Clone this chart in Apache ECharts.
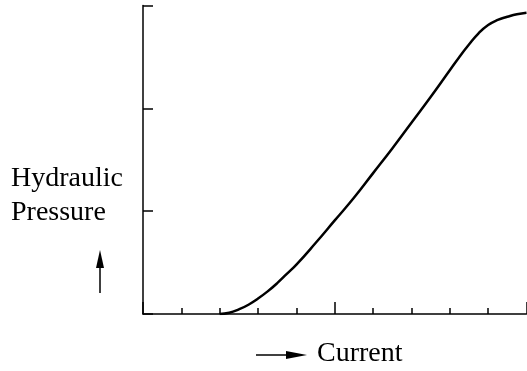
<!DOCTYPE html>
<html>
<head>
<meta charset="utf-8">
<script src="https://cdn.jsdelivr.net/npm/echarts@6/dist/echarts.min.js"></script>
<style>
  html, body { margin: 0; padding: 0; background: #fff; }
  #chart { width: 527px; height: 371px; }
</style>
</head>
<body>
<div id="chart"></div>
<script>
// current (x) vs hydraulic pressure (y)
var current = [2.0, 2.25, 2.5, 2.75, 3.0, 3.25, 3.5, 3.75, 4.0, 4.5, 5.0, 5.5, 6.0, 6.5, 7.0, 7.5, 8.0, 8.25, 8.5, 8.75, 9.0, 9.25, 9.5, 9.75, 10.0];
var pressure = [0, 0.012, 0.045, 0.09, 0.15, 0.22, 0.30, 0.39, 0.48, 0.69, 0.91, 1.13, 1.37, 1.61, 1.86, 2.11, 2.37, 2.5, 2.62, 2.73, 2.81, 2.86, 2.89, 2.915, 2.93];
var yLabel = ['Hydraulic', 'Pressure'];
var xLabel = 'Current';

var serif = '"Liberation Serif", "DejaVu Serif", serif';

var points = current.map(function (x, i) { return [x, pressure[i]]; });

var chart = echarts.init(document.getElementById('chart'));
chart.setOption({
  animation: false,
  grid: { left: 143, right: 0.5, top: 5.5, bottom: 57 },
  xAxis: [
    {
      type: 'value', min: 0, max: 10, interval: 1,
      axisLine: { lineStyle: { color: '#000', width: 1.5 } },
      axisTick: { inside: true, length: 6, lineStyle: { color: '#000', width: 1.5 } },
      axisLabel: { show: false },
      splitLine: { show: false }
    },
    {
      // taller ticks every 5
      type: 'value', min: 0, max: 10, interval: 5, position: 'bottom',
      axisLine: { show: false },
      axisTick: { inside: true, length: 12, lineStyle: { color: '#000', width: 1.5 } },
      axisLabel: { show: false },
      splitLine: { show: false }
    }
  ],
  yAxis: {
    type: 'value', min: 0, max: 3, interval: 1,
    axisLine: { show: true, lineStyle: { color: '#000', width: 1.5 } },
    axisTick: { show: true, inside: true, length: 10, lineStyle: { color: '#000', width: 1.5 } },
    axisLabel: { show: false },
    splitLine: { show: false }
  },
  series: [{
    type: 'line',
    data: points,
    smooth: 0.5,
    showSymbol: false,
    lineStyle: { color: '#000', width: 2.5 }
  }],
  graphic: [
    { type: 'text', left: 11, top: 165, style: { text: yLabel[0], font: '28px ' + serif, fill: '#000' } },
    { type: 'text', left: 11, top: 199, style: { text: yLabel[1], font: '28px ' + serif, fill: '#000' } },
    { type: 'text', left: 317, top: 340, style: { text: xLabel, font: '28px ' + serif, fill: '#000' } },
    // up arrow
    { type: 'line', shape: { x1: 100, y1: 293, x2: 100, y2: 262 }, style: { stroke: '#000', lineWidth: 1.5 } },
    { type: 'polygon', shape: { points: [[100, 250], [96, 268], [104, 268]] }, style: { fill: '#000' } },
    // right arrow
    { type: 'line', shape: { x1: 256, y1: 355, x2: 292, y2: 355 }, style: { stroke: '#000', lineWidth: 1.5 } },
    { type: 'polygon', shape: { points: [[307, 355], [286, 351], [286, 359]] }, style: { fill: '#000' } }
  ]
});
</script>
</body>
</html>
